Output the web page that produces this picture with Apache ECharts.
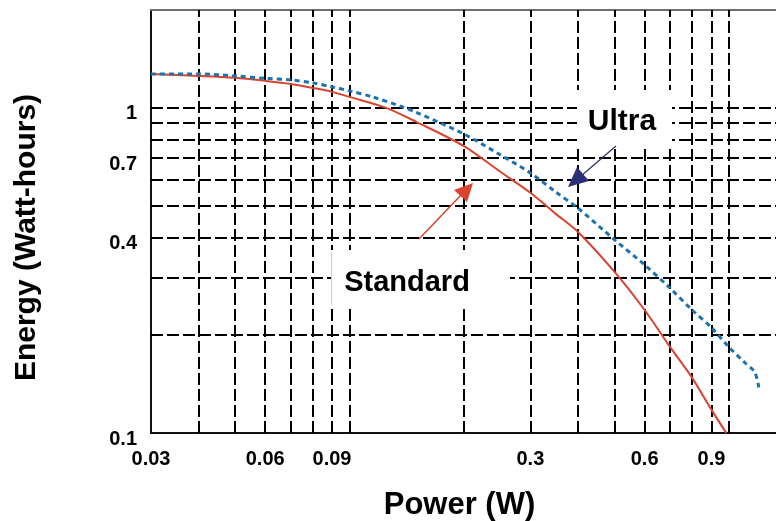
<!DOCTYPE html>
<html>
<head>
<meta charset="utf-8">
<script src="https://cdn.jsdelivr.net/npm/echarts@6/dist/echarts.min.js"></script>
<style>
html,body{margin:0;padding:0;background:#ffffff;}
#chart{width:776px;height:521px;}
</style>
</head>
<body>
<div id="chart"></div>
<script>
// ---- Data ----
const powerStandard  = [0.03, 0.04, 0.05, 0.06, 0.07, 0.08, 0.09, 0.1, 0.125, 0.15, 0.2, 0.25, 0.3, 0.35, 0.4, 0.5, 0.6, 0.7, 0.8, 0.9, 0.985];
const energyStandard = [1.27, 1.254, 1.237, 1.211, 1.185, 1.152, 1.12, 1.081, 1.0, 0.906, 0.764, 0.636, 0.548, 0.472, 0.416, 0.313, 0.239, 0.184, 0.148, 0.118, 0.1];

const powerUltra  = [0.03, 0.04, 0.05, 0.06, 0.07, 0.08, 0.09, 0.1, 0.115, 0.138, 0.15, 0.2, 0.25, 0.3, 0.35, 0.4, 0.5, 0.6, 0.7, 0.8, 0.9, 1.0, 1.1, 1.17, 1.2];
const energyUltra = [1.272, 1.272, 1.254, 1.232, 1.219, 1.194, 1.16, 1.128, 1.081, 1.007, 0.969, 0.832, 0.717, 0.631, 0.551, 0.492, 0.393, 0.329, 0.279, 0.239, 0.211, 0.184, 0.165, 0.154, 0.138];

const xTickLabels = [0.03, 0.06, 0.09, 0.3, 0.6, 0.9];
const yTickLabels = [0.1, 0.4, 0.7, 1];

const xGridLines = [0.04, 0.05, 0.06, 0.07, 0.08, 0.09, 0.1, 0.2, 0.3, 0.4, 0.5, 0.6, 0.7, 0.8, 0.9, 1.0];
const yGridLines = [0.2, 0.3, 0.4, 0.5, 0.6, 0.7, 0.8, 0.9, 1.0];

const xRange = [0.03, 1.332];
const yRange = [0.1, 2];

// ---- Chart ----
const FONT = "'Liberation Sans', Arial, Helvetica, sans-serif";
const chart = echarts.init(document.getElementById('chart'), null, {renderer: 'canvas'});

const zip = (xs, ys) => xs.map((x, i) => [x, ys[i]]);

const gridLineData = xGridLines.map(v => ({xAxis: v})).concat(yGridLines.map(v => ({yAxis: v})));

const option = {
  backgroundColor: '#ffffff',
  animation: false,
  textStyle: {fontFamily: FONT},
  grid: {left: 151, right: 0, top: 10, bottom: 88, containLabel: false, outerBoundsMode: 'none'},
  xAxis: [
    {
      type: 'log', logBase: 10, min: xRange[0], max: xRange[1], position: 'bottom',
      axisLine: {show: true, lineStyle: {color: '#111111', width: 2}},
      axisTick: {show: false},
      splitLine: {show: false},
      axisLabel: {
        customValues: xTickLabels,
        fontSize: 20, fontWeight: 'bold', color: '#000000', fontFamily: FONT, margin: 16
      },
      name: 'Power (W)', nameLocation: 'middle', nameGap: 57,
      nameTextStyle: {fontSize: 31, fontWeight: 'bold', color: '#000000', fontFamily: FONT, padding: [0, 8, 0, 0]}
    },
    {
      type: 'log', logBase: 10, min: xRange[0], max: xRange[1], position: 'top',
      axisLine: {show: true, lineStyle: {color: '#6e6e6e', width: 2}},
      axisTick: {show: false}, axisLabel: {show: false}, splitLine: {show: false}
    }
  ],
  yAxis: {
    type: 'log', logBase: 10, min: yRange[0], max: yRange[1],
    axisLine: {show: true, lineStyle: {color: '#111111', width: 2}},
    axisTick: {show: false},
    splitLine: {show: false},
    axisLabel: {
      customValues: yTickLabels,
      fontSize: 20, fontWeight: 'bold', color: '#000000', fontFamily: FONT, margin: 14,
      verticalAlign: 'top', lineHeight: 12
    },
    name: 'Energy (Watt-hours)', nameLocation: 'middle', nameRotate: 90, nameGap: 109,
    nameTextStyle: {fontSize: 30, fontWeight: 'bold', color: '#000000', fontFamily: FONT, padding: [0, 32, 0, 0]}
  },
  series: [
    {
      type: 'line', name: 'grid', data: [], silent: true, z: 1,
      markLine: {
        silent: true, z: 1, animation: false,
        symbol: ['none', 'none'],
        label: {show: false},
        emphasis: {disabled: true},
        lineStyle: {color: '#000000', width: 2, type: [12, 4]},
        data: gridLineData
      }
    },
    {
      type: 'line', name: 'Standard', data: zip(powerStandard, energyStandard),
      showSymbol: false, smooth: 0.3, z: 10, silent: true,
      lineStyle: {color: '#d9432f', width: 2}
    },
    {
      type: 'line', name: 'Ultra', data: zip(powerUltra, energyUltra),
      showSymbol: false, smooth: 0.3, z: 10, silent: true,
      lineStyle: {color: '#1c72ad', width: 3, type: [5, 4], cap: 'butt'}
    }
  ],
  graphic: [
    {type: 'rect', z: 5, shape: {x: 331, y: 250, width: 179, height: 55}, style: {fill: '#ffffff'}},
    {type: 'line', z: 6, shape: {x1: 331.5, y1: 253, x2: 331.5, y2: 305}, style: {stroke: '#cccccc', lineWidth: 1}},
    {type: 'text', z: 6, style: {text: 'Standard', x: 407, y: 283, textAlign: 'center', align: 'center', textVerticalAlign: 'middle', verticalAlign: 'middle', fontSize: 29, fontWeight: 'bold', fontFamily: FONT, fill: '#000000'}},
    {type: 'rect', z: 5, shape: {x: 577, y: 90, width: 95, height: 57}, style: {fill: '#ffffff'}},
    {type: 'text', z: 6, style: {text: 'Ultra', x: 622, y: 122, textAlign: 'center', align: 'center', textVerticalAlign: 'middle', verticalAlign: 'middle', fontSize: 30, fontWeight: 'bold', fontFamily: FONT, fill: '#000000'}},
    {type: 'line', z: 7, shape: {x1: 419, y1: 239, x2: 462, y2: 194}, style: {stroke: '#d9432f', lineWidth: 1.5}},
    {type: 'polygon', z: 7, shape: {points: [[473, 183], [454, 190], [467, 202]]}, style: {fill: '#d9432f'}},
    {type: 'line', z: 7, shape: {x1: 616, y1: 146, x2: 581, y2: 176}, style: {stroke: '#2b2f78', lineWidth: 1.2}},
    {type: 'polygon', z: 7, shape: {points: [[568, 187], [577, 167], [589, 181]]}, style: {fill: '#2b2f78'}}
  ]
};

chart.setOption(option);
</script>
</body>
</html>
